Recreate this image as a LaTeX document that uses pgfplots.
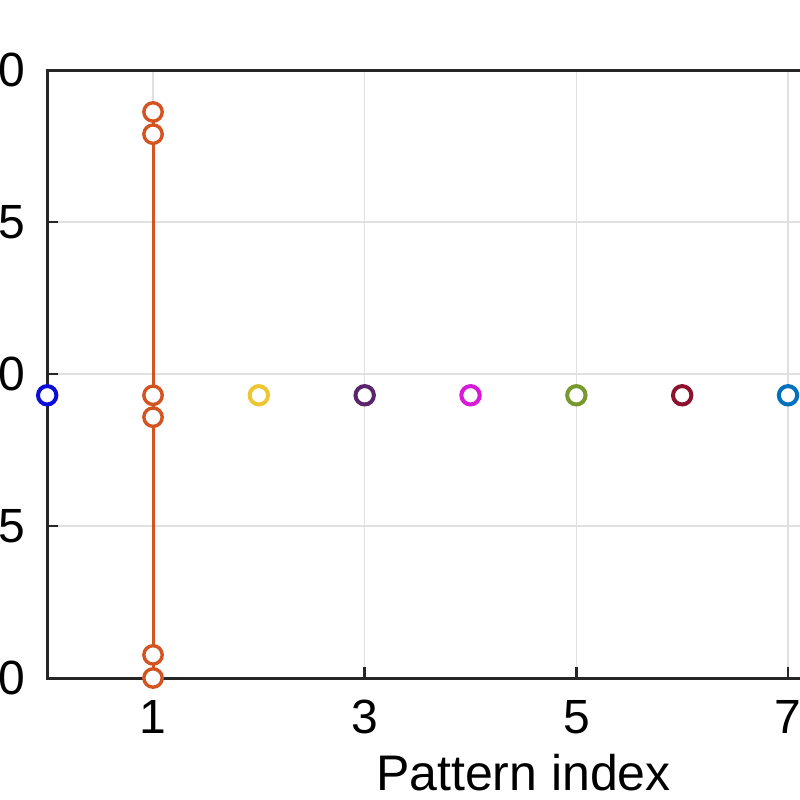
\documentclass[border=0pt]{standalone}
\usepackage{fontspec}
\setmainfont{Liberation Sans}
\usepackage{pgfplots}
\pgfplotsset{compat=1.18}
\definecolor{c0}{rgb}{0.05,0.05,0.85}
\definecolor{c1}{rgb}{0.83,0.33,0.13}
\definecolor{c2}{rgb}{0.929,0.78,0.2}
\definecolor{c3}{rgb}{0.36,0.14,0.42}
\definecolor{c4}{rgb}{0.85,0.1,0.85}
\definecolor{c5}{rgb}{0.466,0.6,0.188}
\definecolor{c6}{rgb}{0.55,0.07,0.18}
\definecolor{c7}{rgb}{0.0,0.447,0.741}
\begin{document}
\begin{tikzpicture}
\path[use as bounding box, clip] (-23.6pt,-61pt) rectangle (376.4pt,339pt);
\begin{axis}[
  at={(0,0)}, anchor=south west, scale only axis,
  width=476.25pt, height=304pt,
  xmin=0, xmax=9, ymin=-10, ymax=10,
  xtick={1,3,5,7,9}, ytick={-10,-5,0,5,10},
  xtick pos=bottom, ytick pos=left,
  tick align=inside, major tick length=5.5pt,
  grid=major, major grid style={black!12, line width=0.6pt},
  axis line style={line width=1.5pt, black!85},
  every tick/.style={black!85, line width=1.2pt},
  clip=false,
  /pgf/number format/assume math mode=true,
  ticklabel style={font=\fontsize{24}{28}\selectfont},
  yticklabel style={anchor=east, inner sep=0pt, xshift=-11pt},
  xticklabel style={anchor=north, inner sep=0pt, yshift=-11pt},
  xlabel={Pattern index},
  xlabel style={font=\fontsize{25}{29}\selectfont, at={(axis description cs:0.5,0)}, anchor=base, yshift=-56pt, inner sep=0pt},
  every axis plot/.append style={mark size=4.6pt, line width=2pt},
]
\addplot[only marks, mark=*, color=c0, mark options={fill=white}] coordinates {(0,-0.7)};
\addplot[color=c1, line width=1.5pt, mark=*, mark options={fill=white, line width=1.7pt}] coordinates {(1,8.62) (1,7.89) (1,-0.7) (1,-1.42) (1,-9.24) (1,-10)};
\addplot[only marks, mark=*, color=c2, mark options={fill=white}] coordinates {(2,-0.7)};
\addplot[only marks, mark=*, color=c3, mark options={fill=white}] coordinates {(3,-0.7)};
\addplot[only marks, mark=*, color=c4, mark options={fill=white}] coordinates {(4,-0.7)};
\addplot[only marks, mark=*, color=c5, mark options={fill=white}] coordinates {(5,-0.7)};
\addplot[only marks, mark=*, color=c6, mark options={fill=white}] coordinates {(6,-0.7)};
\addplot[only marks, mark=*, color=c7, mark options={fill=white}] coordinates {(7,-0.7)};
\end{axis}
\end{tikzpicture}
\end{document}
